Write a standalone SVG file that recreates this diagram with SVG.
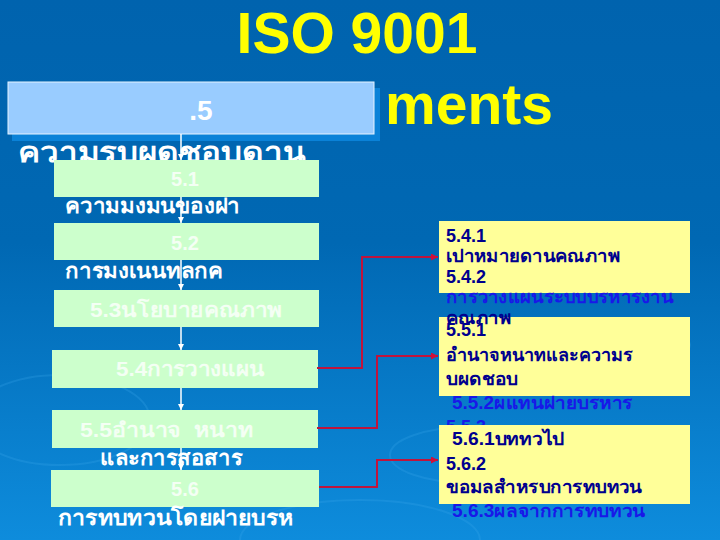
<svg xmlns="http://www.w3.org/2000/svg" width="720" height="540" viewBox="0 0 720 540">
  <defs>
    <linearGradient id="bg" x1="0" y1="0" x2="0" y2="1">
      <stop offset="0" stop-color="#0063AE"/>
      <stop offset="0.45" stop-color="#0068B3"/>
      <stop offset="1" stop-color="#0E8CDC"/>
    </linearGradient>
    <marker id="wa" viewBox="0 0 10 10" refX="10" refY="5" markerWidth="6" markerHeight="6" orient="auto" markerUnits="userSpaceOnUse">
      <path d="M0,0 L10,5 L0,10 z" fill="#FFFFFF"/>
    </marker>
    <marker id="ra" viewBox="0 0 10 10" refX="10" refY="5" markerWidth="7" markerHeight="7" orient="auto" markerUnits="userSpaceOnUse">
      <path d="M0,0 L10,5 L0,10 z" fill="#D0103A"/>
    </marker>
    <style>
      text { font-family: "Liberation Sans", "Noto Sans", sans-serif; font-weight: bold; }
      .title { fill: #FFFF00; font-size: 57px; }
      .white { fill: #FFFFFF; font-size: 21px; }
      .head { fill: #FFFFFF; font-size: 28px; }
      .inbox { fill: #F4FFF4; font-size: 20px; }
      .green { fill: #CCFFCC; }
      .yellow { fill: #FFFF99; }
      .ytxt { fill: #00008E; font-size: 18px; }
      .otxt { fill: #1818E8; font-size: 18px; }
      .vconn { stroke: #FFFFFF; stroke-width: 1.5; fill: none; }
      .rconn { stroke: #C0143C; stroke-width: 2; fill: none; }
      .ripple { fill: none; stroke: #3AA6EA; stroke-opacity: 0.25; stroke-width: 2; }
    </style>
  </defs>

  <rect x="0" y="0" width="720" height="540" fill="url(#bg)"/>
  <g id="ripples">
    <ellipse class="ripple" cx="650" cy="345" rx="40" ry="14"/>
    <ellipse class="ripple" cx="650" cy="345" rx="22" ry="7"/>
    <ellipse class="ripple" cx="470" cy="455" rx="80" ry="28"/>
    <ellipse class="ripple" cx="60" cy="420" rx="90" ry="45"/>
    <ellipse class="ripple" cx="360" cy="540" rx="120" ry="40"/>
  </g>

  <g id="title">
    <text class="title" x="357" y="53" text-anchor="middle">ISO 9001</text>
    <text class="title" x="385" y="124">ments</text>
  </g>

  <g id="n5">
    <rect x="12" y="88" width="368" height="53" fill="#0A82D8"/>
    <rect x="8" y="82" width="366" height="52" fill="#99CCFF" stroke="#E6F3FF" stroke-width="1"/>
    <text class="head" x="201" y="120" text-anchor="middle" font-size="29">.5</text>
    <text class="head" x="18" y="162" textLength="287" lengthAdjust="spacingAndGlyphs">ความรบผดชอบดาน</text>
  </g>

  <g id="n51">
    <rect class="green" x="54" y="160" width="265" height="37"/>
    <text class="inbox" x="185" y="186" text-anchor="middle">5.1</text>
    <text class="white" x="65" y="213" textLength="175" lengthAdjust="spacingAndGlyphs">ความมงมนของฝา</text>
  </g>
  <g id="n52">
    <rect class="green" x="54" y="223" width="265" height="37"/>
    <text class="inbox" x="185" y="250" text-anchor="middle">5.2</text>
    <text class="white" x="65" y="278" textLength="158" lengthAdjust="spacingAndGlyphs">การมงเนนทลกค</text>
  </g>
  <g id="n53">
    <rect class="green" x="54" y="290" width="265" height="37"/>
    <text class="inbox" x="90" y="317" textLength="192" lengthAdjust="spacingAndGlyphs">5.3นโยบายคณภาพ</text>
  </g>
  <g id="n54">
    <rect class="green" x="52" y="350" width="266" height="38"/>
    <text class="inbox" x="116" y="376" textLength="149" lengthAdjust="spacingAndGlyphs">5.4การวางแผน</text>
  </g>
  <g id="n55">
    <rect class="green" x="52" y="410" width="266" height="38"/>
    <text class="inbox" x="80" y="437" xml:space="preserve" textLength="173" lengthAdjust="spacingAndGlyphs">5.5อำนาจ  หนาท</text>
    <text class="white" x="100" y="465" textLength="142" lengthAdjust="spacingAndGlyphs">และการสอสาร</text>
  </g>
  <g id="n56">
    <rect class="green" x="51" y="470" width="268" height="37"/>
    <text class="inbox" x="185" y="496" text-anchor="middle">5.6</text>
    <text class="white" x="58" y="525" textLength="235" lengthAdjust="spacingAndGlyphs">การทบทวนโดยฝายบรห</text>
  </g>

  <g id="right">
    <g id="r54">
      <rect class="yellow" x="439" y="221" width="251" height="72"/>
    </g>
    <g id="r55">
      <rect class="yellow" x="439" y="317" width="251" height="79"/>
    </g>
    <g id="r54t">
      <text class="ytxt" x="446" y="242">5.4.1</text>
      <text class="ytxt" x="446" y="262" textLength="174" lengthAdjust="spacingAndGlyphs">เปาหมายดานคณภาพ</text>
      <text class="ytxt" x="446" y="283">5.4.2</text>
      <text class="otxt" x="446" y="303" textLength="227" lengthAdjust="spacingAndGlyphs">การวางแผนระบบบรหารงาน</text>
      <text class="ytxt" x="446" y="324" textLength="65" lengthAdjust="spacingAndGlyphs">คณภาพ</text>
    </g>
    <g id="r55t">
      <text class="ytxt" x="446" y="336">5.5.1</text>
      <text class="ytxt" x="446" y="361" textLength="187" lengthAdjust="spacingAndGlyphs">อำนาจหนาทและความร</text>
      <text class="ytxt" x="446" y="385" textLength="72" lengthAdjust="spacingAndGlyphs">บผดชอบ</text>
      <text class="otxt" x="452" y="409" textLength="181" lengthAdjust="spacingAndGlyphs">5.5.2ผแทนฝายบรหาร</text>
      <text class="otxt" x="446" y="433">5.5.3</text>
    </g>
    <g id="r56">
      <rect class="yellow" x="439" y="425" width="251" height="79"/>
      <text class="ytxt" x="452" y="445" textLength="112" lengthAdjust="spacingAndGlyphs">5.6.1บททวไป</text>
      <text class="ytxt" x="446" y="470">5.6.2</text>
      <text class="ytxt" x="446" y="493" textLength="196" lengthAdjust="spacingAndGlyphs">ขอมลสำหรบการทบทวน</text>
      <text class="otxt" x="452" y="517" textLength="193" lengthAdjust="spacingAndGlyphs">5.6.3ผลจากการทบทวน</text>
    </g>
  </g>

  <g id="connectors">
    <line class="vconn" x1="181" y1="134" x2="181" y2="160" marker-end="url(#wa)"/>
    <line class="vconn" x1="181" y1="197" x2="181" y2="223" marker-end="url(#wa)"/>
    <line class="vconn" x1="181" y1="260" x2="181" y2="290" marker-end="url(#wa)"/>
    <line class="vconn" x1="181" y1="327" x2="181" y2="350" marker-end="url(#wa)"/>
    <line class="vconn" x1="181" y1="388" x2="181" y2="410" marker-end="url(#wa)"/>
    <line class="vconn" x1="181" y1="448" x2="181" y2="470" marker-end="url(#wa)"/>
    <polyline class="rconn" points="317,368 362,368 362,257 438,257" marker-end="url(#ra)"/>
    <polyline class="rconn" points="317,428 377,428 377,356 438,356" marker-end="url(#ra)"/>
    <polyline class="rconn" points="319,487 377,487 377,460 438,460" marker-end="url(#ra)"/>
  </g>
</svg>
